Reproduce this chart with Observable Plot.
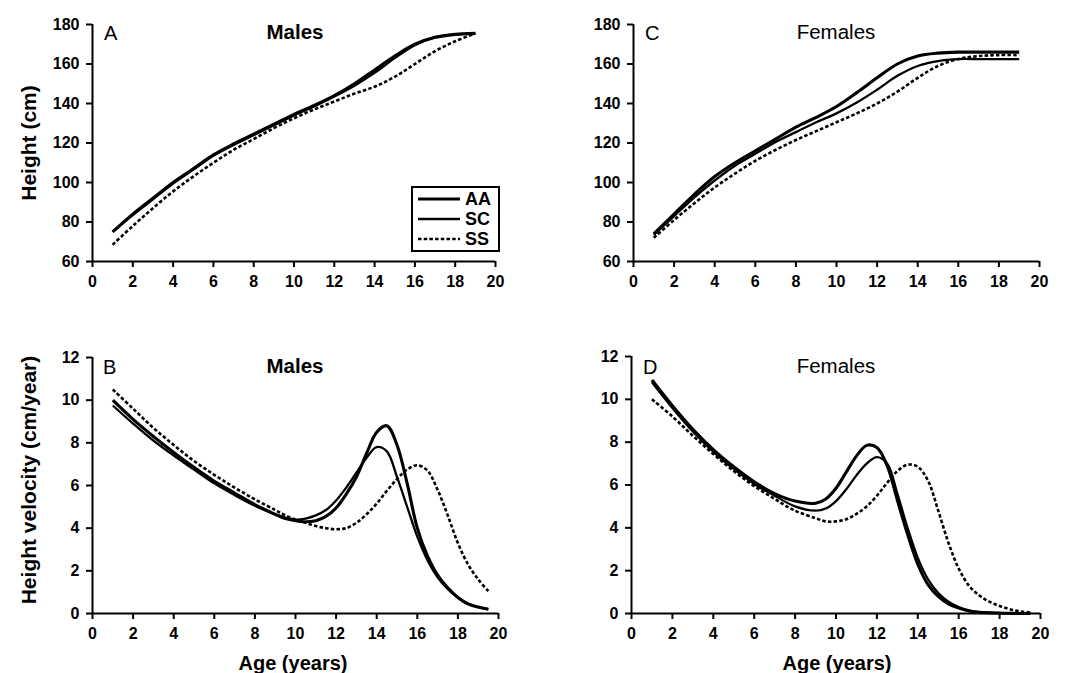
<!DOCTYPE html>
<html>
<head>
<meta charset="utf-8">
<script src="https://cdn.jsdelivr.net/npm/d3@7"></script>
<script src="https://cdn.jsdelivr.net/npm/@observablehq/plot@0.6"></script>
<style>
  html, body { margin: 0; padding: 0; background: #fff; }
  #wrap { position: relative; width: 1080px; height: 673px; background: #fff; font-family: "Liberation Sans", Arial, sans-serif; color: #000; }
  .panel { position: absolute; }
  .lbl { position: absolute; white-space: nowrap; line-height: 1; }
  .title { font-size: 20.5px; font-weight: bold; transform: translate(-50%, -50%); }
  .letter { font-size: 20px; transform: translate(0, -50%); }
  .ylab { font-size: 21px; font-weight: bold; transform: translate(-50%, -50%) rotate(-90deg); }
  .xlab { font-size: 20px; font-weight: bold; transform: translate(-50%, -50%); }
  #legend { position: absolute; left: 411px; top: 186px; width: 85px; height: 62px; border: 2px solid #000; background: #fff; }
  #legend .row { position: absolute; left: 4px; height: 20px; display: flex; align-items: center; }
  #legend span { font-size: 18px; font-weight: bold; margin-left: 4px; }
</style>
</head>
<body>
<div id="wrap"></div>
<script>
// ---------- data ----------
const heightAges = [1,2,3,4,5,6,7,8,9,10,11,12,13,14,15,16,17,18,19];
const maleHeightAA = [75,84,92,100,107,114,119.5,124.5,129.5,134.5,139,144,150,157,164,170,173.5,175,175.5];
const maleHeightSC = [75,83.5,91.5,99.5,106.5,113.5,119,124,129,134,138.5,143.5,149,155.5,163,169.5,173.5,175,175.5];
const maleHeightSS = [68.5,78,87,95.5,103,110,116.5,122,127.5,132.5,137,141,145,148.5,153.5,160,166.5,171.5,175.5];
const femaleHeightAA = [74,84,94,103,110,116,122,128,133,138.5,145.5,153,160,164,165.5,166,166,166,166];
const femaleHeightSC = [73.5,83,92.5,101,108.5,114.5,120.5,125.5,130.5,135,140.5,147,154,159,161.5,162.5,162.5,162.5,162.5];
const femaleHeightSS = [72,81,89.5,97.5,104.5,111,116.5,121.5,126,130.5,135,140,146,153,159,162.5,164,164.5,164.5];

const velAges = [1,2,3,4,5,6,7,8,9,9.5,10,10.5,11,11.5,12,12.5,13,13.5,14,14.5,15,15.5,16,16.5,17,17.5,18,18.5,19,19.5];
const maleVelAA = [10.0,9.1,8.3,7.55,6.85,6.2,5.65,5.1,4.65,4.45,4.35,4.3,4.35,4.55,4.95,5.6,6.4,7.5,8.5,8.8,7.9,6.1,4.0,2.7,1.8,1.2,0.75,0.45,0.3,0.2];
const maleVelSC = [9.75,8.9,8.1,7.4,6.75,6.1,5.55,5.05,4.65,4.5,4.4,4.45,4.6,4.85,5.3,5.9,6.6,7.3,7.8,7.6,6.4,5.0,3.6,2.5,1.7,1.15,0.75,0.45,0.3,0.2];
const maleVelSS = [10.5,9.6,8.7,7.9,7.15,6.5,5.9,5.35,4.85,4.6,4.4,4.25,4.1,4.0,3.95,4.0,4.25,4.65,5.15,5.75,6.3,6.75,6.95,6.7,5.8,4.6,3.3,2.3,1.6,1.05];
const femaleVelAA = [10.9,9.7,8.6,7.65,6.85,6.15,5.6,5.25,5.15,5.35,5.85,6.6,7.35,7.85,7.75,6.9,5.3,3.7,2.3,1.35,0.8,0.45,0.25,0.12,0.05,0.03,0.02,0.01,0,0];
const femaleVelSC = [10.8,9.6,8.5,7.55,6.75,6.05,5.5,5.0,4.8,4.9,5.25,5.8,6.45,7.0,7.3,7.0,5.6,4.0,2.6,1.6,0.95,0.55,0.3,0.15,0.07,0.04,0.02,0.01,0,0];
const femaleVelSS = [10.0,9.2,8.3,7.45,6.65,5.95,5.35,4.8,4.45,4.3,4.3,4.4,4.65,5.0,5.5,6.1,6.65,6.95,6.85,6.2,4.8,3.3,2.1,1.3,0.85,0.55,0.35,0.2,0.1,0.05];

const xTicks = [0,2,4,6,8,10,12,14,16,18,20];
const heightTicks = [60,80,100,120,140,160,180];
const velTicks = [0,2,4,6,8,10,12];
const groups = ["AA","SC","SS"];

// ---------- helpers ----------
const styleFor = {
  AA: {strokeWidth: 3.1},
  SC: {strokeWidth: 2.3},
  SS: {strokeWidth: 2.6, strokeDasharray: "3.5,2.2"}
};
function rows(ages, vals) { return ages.map((a, i) => ({age: a, v: vals[i]})); }

function panel(opts) {
  const {left, top, width, height, mL, mR, mT, mB, yDomain, yTicks, series, ages} = opts;
  const marks = [
    Plot.axisX({ticks: xTicks, tickSize: 6, tickPadding: 8, strokeWidth: 2, label: null, fontSize: 16, fontWeight: "bold"}),
    Plot.axisY({ticks: yTicks, tickSize: 6, tickPadding: 7, strokeWidth: 2, label: null, fontSize: 16, fontWeight: "bold"}),
    Plot.ruleX([0], {strokeWidth: 2}),
    Plot.ruleY([yDomain[0]], {strokeWidth: 2})
  ];
  groups.forEach((g, i) => {
    marks.push(Plot.line(rows(ages, series[i]), {x: "age", y: "v", stroke: "#000", curve: "catmull-rom", strokeLinecap: "butt", strokeLinejoin: "round", ...styleFor[g]}));
  });
  const chart = Plot.plot({
    width, height,
    marginLeft: mL, marginRight: mR, marginTop: mT, marginBottom: mB,
    x: {domain: [0, 20]},
    y: {domain: yDomain},
    style: {fontFamily: "'Liberation Sans', Arial, sans-serif", fontSize: "16px", fontWeight: "bold", color: "#000", background: "transparent", overflow: "visible"},
    marks
  });
  chart.classList.add("panel");
  chart.style.left = left + "px";
  chart.style.top = top + "px";
  document.getElementById("wrap").appendChild(chart);
}

panel({left: 0, top: 0, width: 540, height: 330, mL: 92, mR: 45, mT: 24, mB: 69,
  yDomain: [60, 180], yTicks: heightTicks, ages: heightAges,
  series: [maleHeightAA, maleHeightSC, maleHeightSS]});
panel({left: 540, top: 0, width: 540, height: 330, mL: 93, mR: 41, mT: 24, mB: 69,
  yDomain: [60, 180], yTicks: heightTicks, ages: heightAges,
  series: [femaleHeightAA, femaleHeightSC, femaleHeightSS]});
panel({left: 0, top: 330, width: 540, height: 343, mL: 92, mR: 42, mT: 27, mB: 60,
  yDomain: [0, 12], yTicks: velTicks, ages: velAges,
  series: [maleVelAA, maleVelSC, maleVelSS]});
panel({left: 540, top: 330, width: 540, height: 343, mL: 91, mR: 40, mT: 26, mB: 60,
  yDomain: [0, 12], yTicks: velTicks, ages: velAges,
  series: [femaleVelAA, femaleVelSC, femaleVelSS]});

// ---------- labels ----------
const wrap = document.getElementById("wrap");
function label(text, cls, x, y, extra) {
  const d = document.createElement("div");
  d.className = "lbl " + cls;
  d.textContent = text;
  d.style.left = x + "px";
  d.style.top = y + "px";
  if (extra) Object.assign(d.style, extra);
  wrap.appendChild(d);
}
label("A", "letter", 104, 33);
label("Males", "title", 295, 32);
label("C", "letter", 645, 33);
label("Females", "title", 836, 32, {fontWeight: "normal"});
label("B", "letter", 103, 367);
label("Males", "title", 295, 366);
label("D", "letter", 643, 367);
label("Females", "title", 836, 366, {fontWeight: "normal"});
label("Height (cm)", "ylab", 28, 143);
label("Height velocity (cm/year)", "ylab", 28, 480);
label("Age (years)", "xlab", 293, 663);
label("Age (years)", "xlab", 837, 663);

// legend
const leg = document.createElement("div");
leg.id = "legend";
groups.forEach((g, i) => {
  const r = document.createElement("div");
  r.className = "row";
  r.style.top = (1 + i * 20) + "px";
  const s = styleFor[g];
  r.innerHTML = `<svg width="44" height="10"><line x1="1" y1="5" x2="43" y2="5" stroke="#000" stroke-width="${s.strokeWidth}" ${s.strokeDasharray ? `stroke-dasharray="${s.strokeDasharray}"` : ""}/></svg>`;
  const t = document.createElement("span");
  t.textContent = g;
  r.appendChild(t);
  leg.appendChild(r);
});
wrap.appendChild(leg);
</script>
</body>
</html>
